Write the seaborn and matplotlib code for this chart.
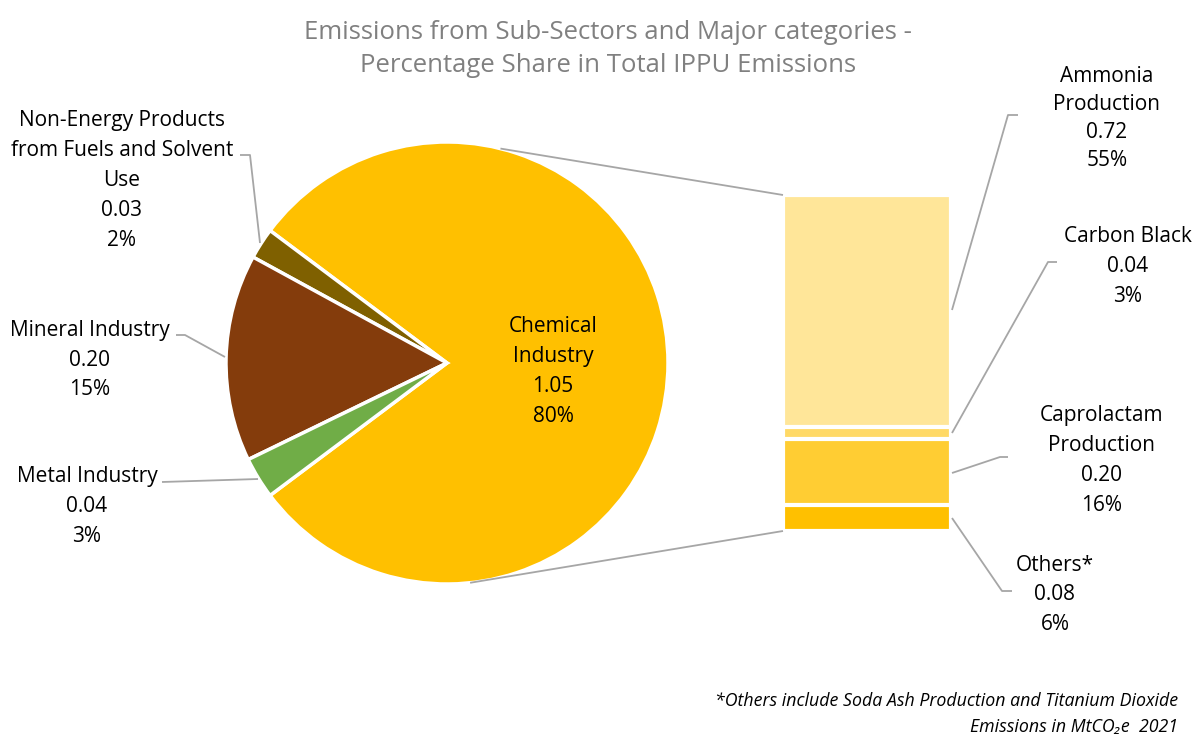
import numpy as np
import matplotlib
matplotlib.use("Agg")
import matplotlib.pyplot as plt
import seaborn as sns

# Sub-sector emissions (MtCO2e, 2021)
sector_names = ["Chemical\nIndustry", "Non-Energy Products\nfrom Fuels and Solvent\nUse",
                "Mineral Industry", "Metal Industry"]
sector_values = [1.05, 0.03, 0.20, 0.04]
sector_colors = ["#FFC000", "#7F6000", "#843C0C", "#70AD47"]

# Breakdown of the chemical industry (top to bottom of the bar)
chem_names = ["Ammonia\nProduction", "Carbon Black", "Caprolactam\nProduction", "Others*"]
chem_values = [0.72, 0.04, 0.205, 0.08]
chem_colors = ["#FFE699", "#FFD966", "#FFCD33", "#FFC000"]

title = "Emissions from Sub-Sectors and Major categories -\nPercentage Share in Total IPPU Emissions"
note = "*Others include Soda Ash Production and Titanium Dioxide\nEmissions in MtCO\u2082e  2021"

sns.set_theme(style="white")
plt.rcParams["font.family"] = ["Open Sans", "DejaVu Sans"]

W, H = 1195, 736
fig = plt.figure(figsize=(W / 100, H / 100), dpi=100)
ax = fig.add_axes([0, 0, 1, 1])


def Y(y):
    return H - y


total = sum(sector_values)
pcts = [v / total * 100 for v in sector_values]
chem_pcts = [v / total * 100 for v in chem_values]

cx, cy, r = 447, Y(363), 221
start = -(sector_values[0] / total) * 360 / 2
ax.pie(sector_values, colors=sector_colors, startangle=start, counterclock=True,
       radius=r, center=(cx, cy), frame=True,
       wedgeprops=dict(edgecolor="white", linewidth=2.5))
ax.set_xlim(0, W)
ax.set_ylim(0, H)
ax.axis("off")

# Stacked bar for the chemical breakdown
bx0, bx1, by0, by1 = 783, 951, 195, 531
bax = fig.add_axes([bx0 / W, 1 - by1 / H, (bx1 - bx0) / W, (by1 - by0) / H])
bar_total = sum(chem_values)
cums = np.cumsum(chem_values[::-1])[::-1]  # cumulative heights from the bottom
for h, c in zip(cums, chem_colors):
    sns.barplot(x=[0], y=[h], color=c, width=1, saturation=1,
                edgecolor="white", linewidth=3, ax=bax)
bax.set_xlim(-0.5, 0.5)
bax.set_ylim(0, bar_total)
bax.axis("off")


def bar_to_main(x, y):
    disp = bax.transData.transform((x, y))
    return ax.transData.inverted().transform(disp)


line_kw = dict(color="#A6A6A6", lw=1.3, solid_capstyle="butt")

# Connector lines from the pie to the bar
for ang, ycorner in [(76, bar_total), (-84, 0)]:
    px = cx + r * np.cos(np.radians(ang))
    py = cy + r * np.sin(np.radians(ang))
    qx, qy = bar_to_main(-0.5, ycorner)
    ax.plot([px, qx], [py, qy], **line_kw)

txt_kw = dict(ha="center", va="center", fontsize=15, color="#000000", linespacing=1.55)


def label(x, y, lines, **kw):
    ax.text(x, Y(y), "\n".join(lines), **{**txt_kw, **kw})


def fmt(name, v, p):
    return name.split("\n") + [f"{v:.2f}", f"{p:.0f}%"]


# Pie labels
label(553, 371.5, fmt(sector_names[0], sector_values[0], pcts[0]))
label(122, 180.5, fmt(sector_names[1], sector_values[1], pcts[1]))
label(90, 360, fmt(sector_names[2], sector_values[2], pcts[2]))
label(87, 506.5, fmt(sector_names[3], sector_values[3], pcts[3]))

# Bar labels
label(1107, 118.5, fmt(chem_names[0], chem_values[0], chem_pcts[0]), linespacing=1.45)
label(1128, 266.5, fmt(chem_names[1], chem_values[1], chem_pcts[1]))
label(1102, 460.5, fmt(chem_names[2], chem_values[2], chem_pcts[2]))
label(1055, 595, fmt(chem_names[3], chem_values[3], chem_pcts[3]))

# Leader lines
leaders = [
    [(240, 155), (250, 155), (260, 243)],
    [(176, 335), (185, 335), (225, 357)],
    [(162, 482), (258, 479)],
    [(1018, 115), (1008, 115), (952, 310)],
    [(1057, 262), (1048, 262), (952, 433)],
    [(1008, 457), (1000, 457), (952, 473)],
    [(952, 518), (1002, 591), (1012, 591)],
]
for pts in leaders:
    xs = [p[0] for p in pts]
    ys = [Y(p[1]) for p in pts]
    ax.plot(xs, ys, **line_kw)

ax.text(608, Y(49), title, ha="center", va="center", fontsize=18.5,
        color="#808080", linespacing=1.4)
ax.text(1178, Y(714), note, ha="right", va="center", fontsize=12.8,
        style="italic", color="#000000", linespacing=1.55)

fig.savefig("out.png", dpi=100)
